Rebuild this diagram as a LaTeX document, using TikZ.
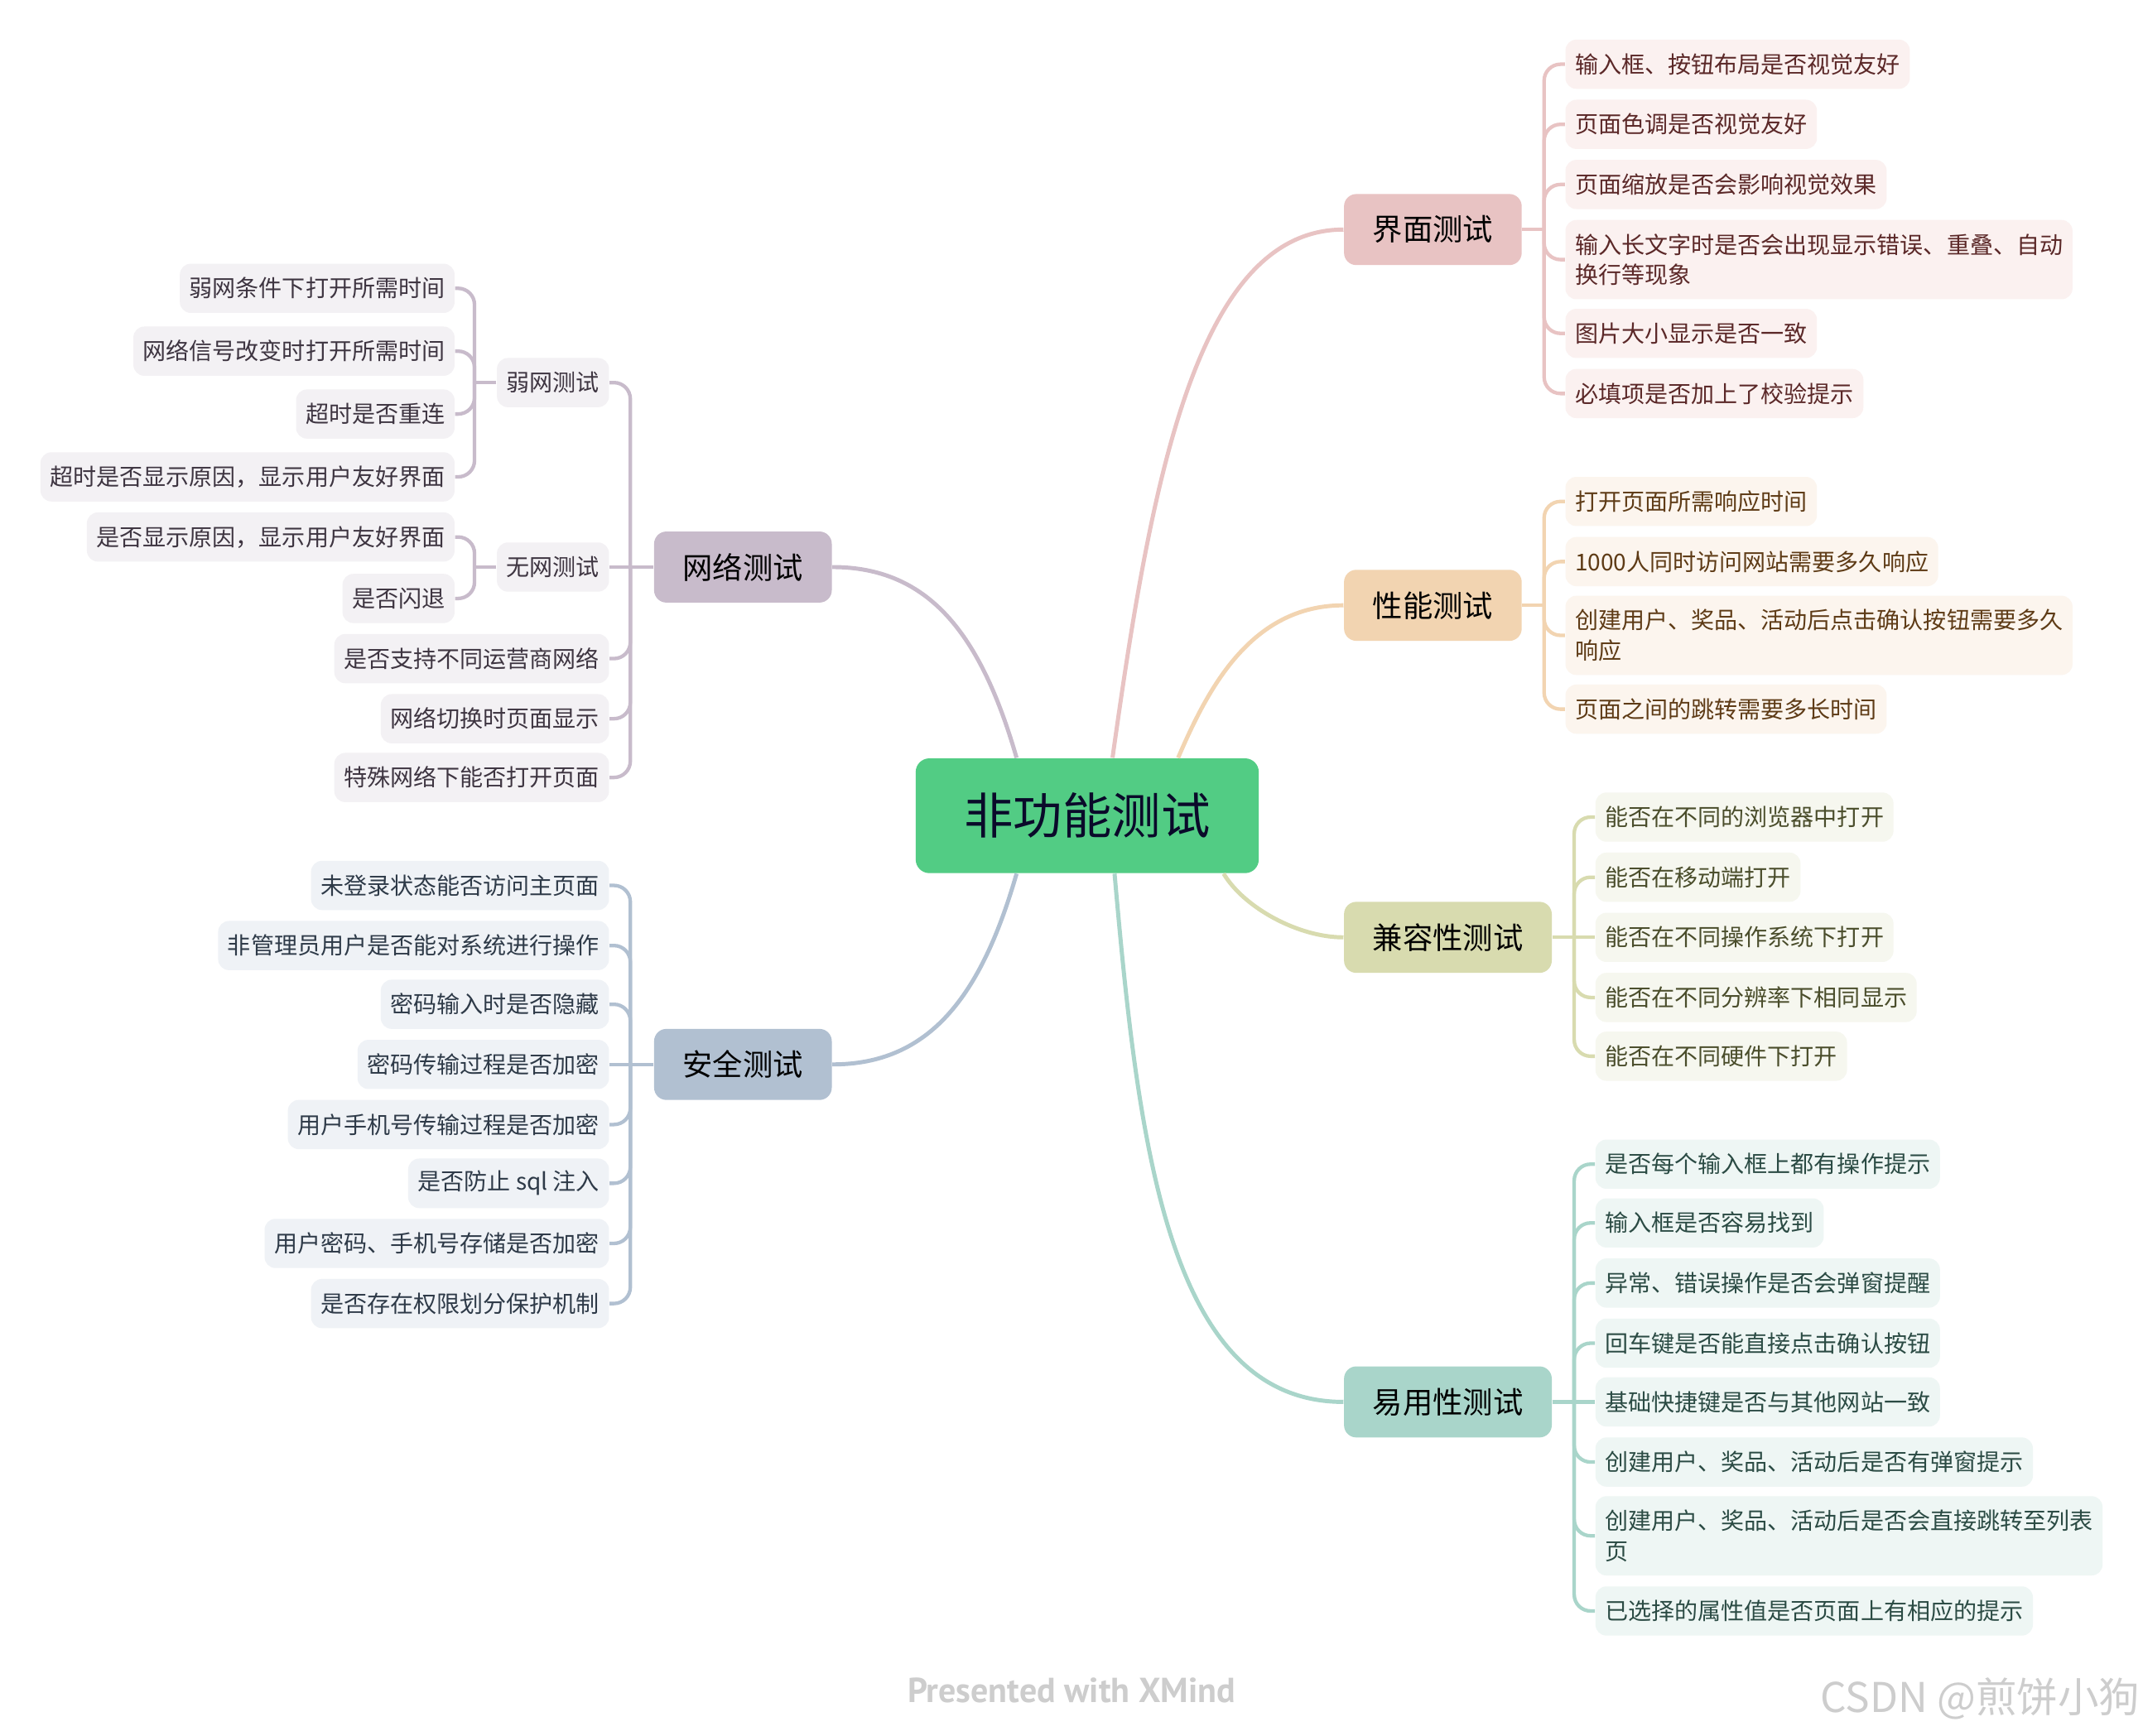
\documentclass[tikz,border=0pt]{standalone}
\usepackage{fontspec}
\setmainfont{Noto Sans CJK SC}
\newfontfamily\markfont{PT Sans}
\usetikzlibrary{calc,positioning}
\definecolor{RootGreen}{HTML}{52CC84}
\definecolor{RootText}{HTML}{0A0A2A}
\definecolor{UIbase}{HTML}{E8C3C3}
\definecolor{UIlight}{HTML}{FBF1F0}
\definecolor{UItext}{HTML}{5B2828}
\definecolor{PFbase}{HTML}{F2D4B1}
\definecolor{PFlight}{HTML}{FCF5EE}
\definecolor{PFtext}{HTML}{5E3B16}
\definecolor{CPbase}{HTML}{D8DBAF}
\definecolor{CPlight}{HTML}{F6F7EF}
\definecolor{CPtext}{HTML}{4A4D2B}
\definecolor{USbase}{HTML}{A9D5CA}
\definecolor{USlight}{HTML}{EEF6F4}
\definecolor{UStext}{HTML}{2B4B44}
\definecolor{NWbase}{HTML}{C8BBCB}
\definecolor{NWlight}{HTML}{F3F1F4}
\definecolor{NWtext}{HTML}{3E3541}
\definecolor{SCbase}{HTML}{B1C0D1}
\definecolor{SClight}{HTML}{EFF2F6}
\definecolor{SCtext}{HTML}{2E3A48}
\definecolor{MarkGray}{HTML}{CDCDCD}
\tikzset{
  mm/root/.style={fill=RootGreen, text=RootText, rounded corners=5pt, font=\fontsize{18}{22}\selectfont, inner xsep=17.75pt, minimum height=42pt},
  mm/topic/.style={fill=#1base, text=black, rounded corners=4.5pt, font=\fontsize{11}{13}\selectfont, inner xsep=10.5pt, minimum height=26pt},
  mm/sub/.style={fill=#1light, text=#1text, rounded corners=4pt, font=\fontsize{8.5}{11}\selectfont, inner xsep=3.5pt, inner ysep=4.5pt, minimum height=18pt, align=left},
  mm/two/.style={minimum height=29pt},
  mm/curve/.style={draw=#1base, line width=1.5pt},
  mm/line/.style={draw=#1base, line width=1.3pt},
  mm/elbow/.style={mm/line=#1, rounded corners=6pt},
  mm/mark/.style={text=MarkGray, inner sep=0pt}
}

\begin{document}
\begin{tikzpicture}[x=0.5pt, y=-0.5pt]
  \path[use as bounding box, fill=white] (0,0) rectangle (1568,1270);

  \node[mm/root] (root) at (795.5,597) {非功能测试};

  % main topics
  \node[mm/topic=UI, anchor=west] (ui) at (983,168) {界面测试};
  \node[mm/topic=PF, anchor=west] (pf) at (983,443) {性能测试};
  \node[mm/topic=CP, anchor=west] (cp) at (983,686) {兼容性测试};
  \node[mm/topic=US, anchor=west] (us) at (983,1026) {易用性测试};
  \node[mm/topic=NW, anchor=east] (nw) at (609,415) {网络测试};
  \node[mm/topic=SC, anchor=east] (sc) at (609,779) {安全测试};

  \draw[mm/curve=UI] ($(root.north)+(18.5,0)$) .. controls +(28,-200) and +(-108,0) .. (ui.west);
  \draw[mm/curve=PF] ($(root.north)+(66.5,0)$) .. controls +(21.5,-50) and +(-68,0) .. (pf.west);
  \draw[mm/curve=CP] ($(root.south)+(99.8,0)$) .. controls +(15,25) and +(-33,0) .. (cp.west);
  \draw[mm/curve=US] ($(root.south)+(20,0)$) .. controls +(17.5,200) and +(-128,0) .. (us.west);
  \draw[mm/curve=NW] ($(root.north)+(-51.7,0)$) .. controls +(-26,-90) and +(71,0) .. (nw.east);
  \draw[mm/curve=SC] ($(root.south)+(-51.7,0)$) .. controls +(-26,90) and +(71,0) .. (sc.east);

  % 界面测试
  \node[mm/sub=UI, anchor=west] (ui1) at (1145,47) {输入框、按钮布局是否视觉友好};
  \node[mm/sub=UI, anchor=west] (ui2) at (1145,91) {页面色调是否视觉友好};
  \node[mm/sub=UI, anchor=west] (ui3) at (1145,135) {页面缩放是否会影响视觉效果};
  \node[mm/sub=UI, mm/two, anchor=west] (ui4) at (1145,190) {输入长文字时是否会出现显示错误、重叠、自动\\换行等现象};
  \node[mm/sub=UI, anchor=west] (ui5) at (1145,244) {图片大小显示是否一致};
  \node[mm/sub=UI, anchor=west] (ui6) at (1145,288) {必填项是否加上了校验提示};
  \coordinate (ui-j) at ($(ui.east)+(16,0)$);
  \draw[mm/line=UI] (ui.east) -- (ui-j);
  \draw[mm/elbow=UI] (ui-j) |- (ui1.west);
  \draw[mm/elbow=UI] (ui-j) |- (ui2.west);
  \draw[mm/elbow=UI] (ui-j) |- (ui3.west);
  \draw[mm/elbow=UI] (ui-j) |- (ui4.west);
  \draw[mm/elbow=UI] (ui-j) |- (ui5.west);
  \draw[mm/elbow=UI] (ui-j) |- (ui6.west);

  % 性能测试
  \node[mm/sub=PF, anchor=west] (pf1) at (1145,367) {打开页面所需响应时间};
  \node[mm/sub=PF, anchor=west] (pf2) at (1145,411) {1000人同时访问网站需要多久响应};
  \node[mm/sub=PF, mm/two, anchor=west] (pf3) at (1145,465) {创建用户、奖品、活动后点击确认按钮需要多久\\响应};
  \node[mm/sub=PF, anchor=west] (pf4) at (1145,519) {页面之间的跳转需要多长时间};
  \coordinate (pf-j) at ($(pf.east)+(16,0)$);
  \draw[mm/line=PF] (pf.east) -- (pf-j);
  \draw[mm/elbow=PF] (pf-j) |- (pf1.west);
  \draw[mm/elbow=PF] (pf-j) |- (pf2.west);
  \draw[mm/elbow=PF] (pf-j) |- (pf3.west);
  \draw[mm/elbow=PF] (pf-j) |- (pf4.west);

  % 兼容性测试
  \node[mm/sub=CP, anchor=west] (cp1) at (1167,598) {能否在不同的浏览器中打开};
  \node[mm/sub=CP, anchor=west] (cp2) at (1167,642) {能否在移动端打开};
  \node[mm/sub=CP, anchor=west] (cp3) at (1167,686) {能否在不同操作系统下打开};
  \node[mm/sub=CP, anchor=west] (cp4) at (1167,730) {能否在不同分辨率下相同显示};
  \node[mm/sub=CP, anchor=west] (cp5) at (1167,773) {能否在不同硬件下打开};
  \coordinate (cp-j) at ($(cp.east)+(16,0)$);
  \draw[mm/line=CP] (cp.east) -- (cp3.west);
  \draw[mm/elbow=CP] (cp-j) |- (cp1.west);
  \draw[mm/elbow=CP] (cp-j) |- (cp2.west);
  \draw[mm/elbow=CP] (cp-j) |- (cp4.west);
  \draw[mm/elbow=CP] (cp-j) |- (cp5.west);

  % 易用性测试
  \node[mm/sub=US, anchor=west] (us1) at (1167,852) {是否每个输入框上都有操作提示};
  \node[mm/sub=US, anchor=west] (us2) at (1167,895) {输入框是否容易找到};
  \node[mm/sub=US, anchor=west] (us3) at (1167,939) {异常、错误操作是否会弹窗提醒};
  \node[mm/sub=US, anchor=west] (us4) at (1167,983) {回车键是否能直接点击确认按钮};
  \node[mm/sub=US, anchor=west] (us5) at (1167,1026) {基础快捷键是否与其他网站一致};
  \node[mm/sub=US, anchor=west] (us6) at (1167,1070) {创建用户、奖品、活动后是否有弹窗提示};
  \node[mm/sub=US, mm/two, anchor=west] (us7) at (1167,1124) {创建用户、奖品、活动后是否会直接跳转至列表\\页};
  \node[mm/sub=US, anchor=west] (us8) at (1167,1179) {已选择的属性值是否页面上有相应的提示};
  \coordinate (us-j) at ($(us.east)+(16,0)$);
  \draw[mm/line=US] (us.east) -- (us5.west);
  \draw[mm/elbow=US] (us-j) |- (us1.west);
  \draw[mm/elbow=US] (us-j) |- (us2.west);
  \draw[mm/elbow=US] (us-j) |- (us3.west);
  \draw[mm/elbow=US] (us-j) |- (us4.west);
  \draw[mm/elbow=US] (us-j) |- (us6.west);
  \draw[mm/elbow=US] (us-j) |- (us7.west);
  \draw[mm/elbow=US] (us-j) |- (us8.west);

  % 网络测试
  \node[mm/sub=NW, anchor=east] (nw1) at (446,280) {弱网测试};
  \node[mm/sub=NW, anchor=east] (nw2) at (446,415) {无网测试};
  \node[mm/sub=NW, anchor=east] (nw3) at (446,482) {是否支持不同运营商网络};
  \node[mm/sub=NW, anchor=east] (nw4) at (446,526) {网络切换时页面显示};
  \node[mm/sub=NW, anchor=east] (nw5) at (446,569) {特殊网络下能否打开页面};
  \coordinate (nw-j) at ($(nw.west)+(-17,0)$);
  \draw[mm/line=NW] (nw.west) -- (nw2.east);
  \draw[mm/elbow=NW] (nw-j) |- (nw1.east);
  \draw[mm/elbow=NW] (nw-j) |- (nw3.east);
  \draw[mm/elbow=NW] (nw-j) |- (nw4.east);
  \draw[mm/elbow=NW] (nw-j) |- (nw5.east);

  \node[mm/sub=NW, anchor=east] (wk1) at (333,211) {弱网条件下打开所需时间};
  \node[mm/sub=NW, anchor=east] (wk2) at (333,257) {网络信号改变时打开所需时间};
  \node[mm/sub=NW, anchor=east] (wk3) at (333,303) {超时是否重连};
  \node[mm/sub=NW, anchor=east] (wk4) at (333,349) {超时是否显示原因，显示用户友好界面};
  \coordinate (wk-j) at ($(nw1.west)+(-16,0)$);
  \draw[mm/line=NW] (nw1.west) -- (wk-j);
  \draw[mm/elbow=NW] (wk-j) |- (wk1.east);
  \draw[mm/elbow=NW] (wk-j) |- (wk2.east);
  \draw[mm/elbow=NW] (wk-j) |- (wk3.east);
  \draw[mm/elbow=NW] (wk-j) |- (wk4.east);

  \node[mm/sub=NW, anchor=east] (nn1) at (333,393) {是否显示原因，显示用户友好界面};
  \node[mm/sub=NW, anchor=east] (nn2) at (333,438) {是否闪退};
  \coordinate (nn-j) at ($(nw2.west)+(-16,0)$);
  \draw[mm/line=NW] (nw2.west) -- (nn-j);
  \draw[mm/elbow=NW] (nn-j) |- (nn1.east);
  \draw[mm/elbow=NW] (nn-j) |- (nn2.east);

  % 安全测试
  \node[mm/sub=SC, anchor=east] (sc1) at (446,648) {未登录状态能否访问主页面};
  \node[mm/sub=SC, anchor=east] (sc2) at (446,692) {非管理员用户是否能对系统进行操作};
  \node[mm/sub=SC, anchor=east] (sc3) at (446,735) {密码输入时是否隐藏};
  \node[mm/sub=SC, anchor=east] (sc4) at (446,779) {密码传输过程是否加密};
  \node[mm/sub=SC, anchor=east] (sc5) at (446,823) {用户手机号传输过程是否加密};
  \node[mm/sub=SC, anchor=east] (sc6) at (446,866) {是否防止 sql 注入};
  \node[mm/sub=SC, anchor=east] (sc7) at (446,910) {用户密码、手机号存储是否加密};
  \node[mm/sub=SC, anchor=east] (sc8) at (446,954) {是否存在权限划分保护机制};
  \coordinate (sc-j) at ($(sc.west)+(-17,0)$);
  \draw[mm/line=SC] (sc.west) -- (sc4.east);
  \draw[mm/elbow=SC] (sc-j) |- (sc1.east);
  \draw[mm/elbow=SC] (sc-j) |- (sc2.east);
  \draw[mm/elbow=SC] (sc-j) |- (sc3.east);
  \draw[mm/elbow=SC] (sc-j) |- (sc5.east);
  \draw[mm/elbow=SC] (sc-j) |- (sc6.east);
  \draw[mm/elbow=SC] (sc-j) |- (sc7.east);
  \draw[mm/elbow=SC] (sc-j) |- (sc8.east);

  % marks
  \node[mm/mark, font=\markfont\bfseries\fontsize{12.7}{15}\selectfont] (xmind) at (784,1237) {Presented with XMind};
  \node[mm/mark, anchor=east, font=\fontsize{15}{18}\selectfont] (csdn) at (1566,1243) {CSDN @煎饼小狗};
\end{tikzpicture}
\end{document}
